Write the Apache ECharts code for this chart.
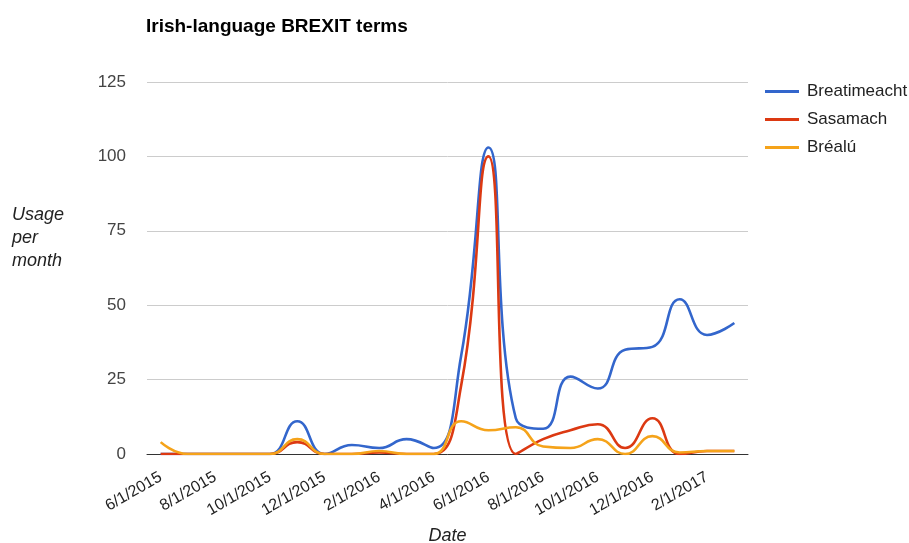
<!DOCTYPE html>
<html>
<head>
<meta charset="utf-8">
<script src="https://cdn.jsdelivr.net/npm/echarts@6/dist/echarts.min.js"></script>
<style>
html,body{margin:0;padding:0;background:#fff;}
#chart{width:909px;height:543px;}
</style>
</head>
<body>
<div id="chart"></div>
<script>
var categories = ['6/1/2015','7/1/2015','8/1/2015','9/1/2015','10/1/2015','11/1/2015','12/1/2015',
  '1/1/2016','2/1/2016','3/1/2016','4/1/2016','5/1/2016','6/1/2016','7/1/2016','8/1/2016','9/1/2016',
  '10/1/2016','11/1/2016','12/1/2016','1/1/2017','2/1/2017','3/1/2017'];
var breatimeacht = [0,0,0,0,0,11,0,3,2,5,2,33,103,12,8.5,26,22,35,36,52,40,44];
var sasamach     = [0,0,0,0,0,4,0,0,0.5,0,0,23,100,0,5,8,10,2,12,0,1,1];
var brealu       = [4,0,0,0,0,5,0,0,1,0,0,11,8,9,2.5,2,5,0,6,0.5,1,1];
var seriesNames = ['Breatimeacht','Sasamach','Bréalú'];
var yTicks = [0,25,50,75,100,125];

var chart = echarts.init(document.getElementById('chart'), null, {renderer:'canvas'});
var font = 'Arial, "Liberation Sans", sans-serif';
function mk(name, data, color){
  return {name:name, type:'line', data:data, smooth:true, showSymbol:false, symbol:'none',
    lineStyle:{width:2.6, color:color}, itemStyle:{color:color}, animation:false};
}
chart.setOption({
  backgroundColor:'#fff',
  animation:false,
  title:{text:'Irish-language BREXIT terms', left:141, top:12,
    textStyle:{fontFamily:font, fontSize:19, fontWeight:'bold', color:'#000'}},
  grid:{left:147, right:161, top:82, bottom:89, outerBoundsMode:'none', containLabel:false},
  legend:{orient:'vertical', left:760, top:78, itemWidth:34, itemHeight:3, icon:'rect', itemGap:11,
    textStyle:{fontFamily:font, fontSize:17, color:'#222', padding:[0,0,0,3]},
    data:seriesNames},
  xAxis:{type:'category', data:categories, boundaryGap:true,
    axisLine:{show:true, lineStyle:{color:'#333', width:1}},
    axisTick:{show:false},
    axisLabel:{interval:1, rotate:30, margin:22, fontFamily:font, fontSize:16, color:'#222'},
    name:'Date', nameLocation:'middle', nameGap:73,
    nameTextStyle:{fontFamily:font, fontSize:18, fontStyle:'italic', color:'#222'}},
  yAxis:{type:'value', min:yTicks[0], max:yTicks[yTicks.length-1], interval:25,
    axisLine:{show:false}, axisTick:{show:false},
    axisLabel:{margin:21, fontFamily:font, fontSize:17, color:'#444'},
    splitLine:{lineStyle:{color:'#cccccc', width:1}}},
  graphic:[{type:'text', left:12, top:203, style:{text:'Usage\nper\nmonth', fontFamily:font,
    fontSize:18, fontStyle:'italic', fill:'#222', lineHeight:23}}],
  series:[mk(seriesNames[0], breatimeacht, '#3366cc'),
          mk(seriesNames[1], sasamach, '#dc3912'),
          mk(seriesNames[2], brealu, '#f5a31a')]
});
</script>
</body>
</html>
